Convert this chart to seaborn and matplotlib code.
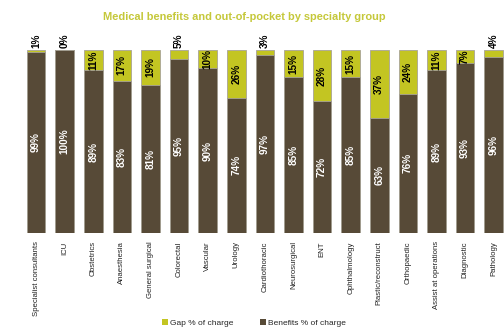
import matplotlib
matplotlib.use("Agg")
import matplotlib.pyplot as plt
import seaborn as sns
import pandas as pd
from matplotlib.patches import Patch

categories = ["Specialist consultants", "ICU", "Obstetrics", "Anaesthesia", "General surgical",
              "Colorectal", "Vascular", "Urology", "Cardiothoracic", "Neurosurgical", "ENT",
              "Ophthalmology", "Plastic/reconstruct", "Orthopaedic", "Assist at operations",
              "Diagnostic", "Pathology"]
benefits = [99, 100, 89, 83, 81, 95, 90, 74, 97, 85, 72, 85, 63, 76, 89, 93, 96]
gap = [1, 0, 11, 17, 19, 5, 10, 26, 3, 15, 28, 15, 37, 24, 11, 7, 4]

BROWN = "#574a37"
OLIVE = "#c3c522"
EDGE = "#a8a398"

sns.set_theme(style="white")
plt.rcParams["font.family"] = ["Liberation Sans", "DejaVu Sans"]

df = pd.DataFrame({"cat": categories, "benefits": benefits, "gap": gap})
df["total"] = df["benefits"] + df["gap"]

fig = plt.figure(figsize=(5.04, 3.36), dpi=100)
ax = fig.add_axes([0.0431, 0.3065, 0.9647, 0.545])

sns.barplot(data=df, x="cat", y="total", color=OLIVE, saturation=1, width=0.65,
            edgecolor=EDGE, linewidth=0.6, ax=ax)
sns.barplot(data=df, x="cat", y="benefits", color=BROWN, saturation=1, width=0.65,
            edgecolor=EDGE, linewidth=0.6, ax=ax)

for i, (b, g) in enumerate(zip(benefits, gap)):
    ax.text(i, b / 2, f"{b}%", rotation=90, ha="center", va="center",
            color="white", fontsize=7.2, fontweight="bold")
    if g >= 7:
        ax.text(i, b + g / 2, f"{g}%", rotation=90, ha="center", va="center",
                color="black", fontsize=7.2, fontweight="bold")
    else:
        ax.text(i, b + g + 0.8, f"{g}%", rotation=90, ha="center", va="bottom",
                color="black", fontsize=7.2, fontweight="bold")

ax.set_xlim(-0.5, len(categories) - 0.5)
ax.set_ylim(0, 100)
ax.set_xlabel("")
ax.set_ylabel("")
ax.set_yticks([])
ax.set_xticks(range(len(categories)))
ax.set_xticklabels(categories, rotation=90, fontsize=5.6, color="#222222", va="top", ha="center")
ax.tick_params(axis="x", length=0, pad=6)
for s in ax.spines.values():
    s.set_visible(False)

fig.text(0.484, 0.949, "Medical benefits and out-of-pocket by specialty group",
         ha="center", va="center", fontsize=7.9, fontweight="bold", color="#c5c83a")

handles = [Patch(facecolor=OLIVE, edgecolor="none", label="Gap % of charge"),
           Patch(facecolor=BROWN, edgecolor="none", label="Benefits % of charge")]
fig.legend(handles=handles, loc="center", bbox_to_anchor=(0.504, 1 - 322.7 / 336), ncol=2,
           frameon=False, fontsize=6, handlelength=0.72, handleheight=0.72,
           handletextpad=0.3, columnspacing=3.1)

fig.savefig("out.png", dpi=100)
